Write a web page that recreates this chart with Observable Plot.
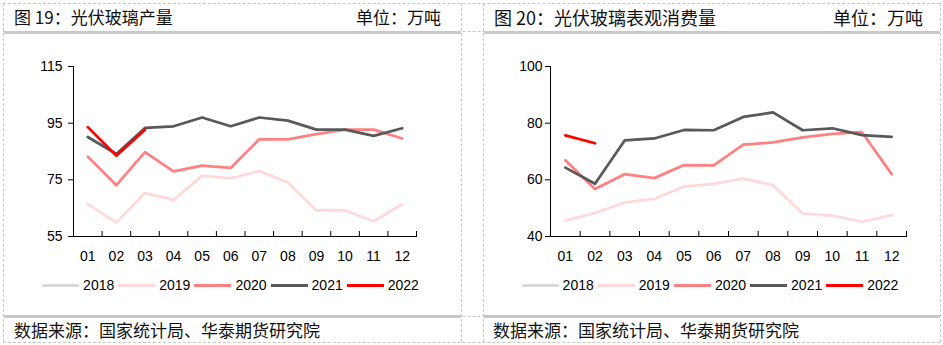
<!DOCTYPE html>
<html><head><meta charset="utf-8">
<script src="https://cdn.jsdelivr.net/npm/d3@7"></script>
<script src="https://cdn.jsdelivr.net/npm/@observablehq/plot@0.6"></script>
<style>
body{margin:0;background:#fff;}
#page{position:relative;width:943px;height:345px;overflow:hidden;font-family:"Noto Sans CJK SC",sans-serif;background:#fff;}
.dh{position:absolute;height:0;border-top:1px dashed #c4c4c4;}
.dv{position:absolute;width:0;border-left:1px dashed #c4c4c4;}
.bar{position:absolute;height:3px;background:#c8c8c8;}
.title{position:absolute;top:6px;font-size:17px;line-height:22px;color:#111;white-space:nowrap;}
.caption{position:absolute;top:319px;font-size:17px;line-height:22px;color:#111;white-space:nowrap;}
.chart{position:absolute;top:36px;}
.legend{position:absolute;top:276px;height:18px;display:flex;align-items:center;justify-content:center;font-family:"Liberation Sans",Arial,sans-serif;font-size:14px;color:#000;}
.legend .sw{display:inline-block;width:37px;height:3px;margin-right:4px;}
.legend .lb{margin-right:4px;}
</style>
</head><body>
<div id="page"></div>
<script>
// ---- data ----
const months = ["01","02","03","04","05","06","07","08","09","10","11","12"];
const years = ["2018","2019","2020","2021","2022"];
const colors = ["#d9d9d9","#ffd9d9","#ff8080","#595959","#ff0000"];

// 图19 光伏玻璃产量 (万吨)
const prod2018 = [];
const prod2019 = [66.4,59.9,70.3,67.9,76.4,75.5,78.1,74.1,64.2,64.2,60.4,66.4];
const prod2020 = [83.2,73.1,84.8,78.0,80.0,79.2,89.3,89.3,91.1,92.7,92.7,89.6];
const prod2021 = [90.1,84.1,93.3,93.9,97.0,93.9,97.0,95.9,92.7,92.7,90.5,93.2];
const prod2022 = [93.6,83.5,92.7];
const prodTicks = [55,75,95,115];

// 图20 光伏玻璃表观消费量 (万吨)
const cons2018 = [];
const cons2019 = [45.6,48.3,52.0,53.3,57.6,58.6,60.4,58.1,48.1,47.4,45.2,47.5];
const cons2020 = [66.9,56.8,62.0,60.6,65.2,65.1,72.4,73.2,75.0,76.2,76.8,62.0];
const cons2021 = [64.3,58.6,73.9,74.6,77.6,77.5,82.2,83.8,77.5,78.2,75.8,75.2];
const cons2022 = [75.7,72.9];
const consTicks = [40,60,80,100];

const page = document.getElementById("page");
function el(cls, css, html){const d=document.createElement("div");d.className=cls;Object.assign(d.style,css);if(html!=null)d.innerHTML=html;page.appendChild(d);return d;}

// frame (dashed table borders)
el("dh",{left:"3px",top:"3px",width:"937px"});
el("dh",{left:"3px",top:"342px",width:"937px"});
el("dh",{left:"3px",top:"31px",width:"937px"});
el("dh",{left:"3px",top:"316px",width:"937px"});
el("dv",{left:"3px",top:"3px",height:"339px"});
el("dv",{left:"461px",top:"3px",height:"339px"});
el("dv",{left:"483px",top:"3px",height:"339px"});
el("dv",{left:"940px",top:"3px",height:"339px"});
// gray bars
el("bar",{left:"4px",top:"31px",width:"457px"});
el("bar",{left:"484px",top:"31px",width:"456px"});
el("bar",{left:"4px",top:"315px",width:"457px"});
el("bar",{left:"484px",top:"315px",width:"456px"});

// titles & captions
el("title",{left:"14px"},"图 19：光伏玻璃产量");
el("title",{left:"356px"},"单位：万吨");
el("title",{left:"494px",fontSize:"18px"},"图 20：光伏玻璃表观消费量");
el("title",{left:"833px",fontSize:"18px"},"单位：万吨");
el("caption",{left:"14px"},"数据来源：国家统计局、华泰期货研究院");
el("caption",{left:"493px"},"数据来源：国家统计局、华泰期货研究院");

function makeRows(series){
  const rows=[];
  series.forEach((arr,k)=>arr.forEach((v,i)=>rows.push({year:years[k],m:i+1,v})));
  return rows;
}

function chart(series, ticks, opts){
  const rows = makeRows(series);
  const monthNums = months.map((_,i)=>i+1);
  const bounds = months.map((_,i)=>i+1.5);
  const yMin = ticks[0], yMax = ticks[ticks.length-1];
  return Plot.plot({
    width: opts.width, height: 234,
    marginLeft: opts.ml, marginRight: opts.mr, marginTop: 30, marginBottom: 34,
    style:{fontFamily:'"Liberation Sans",Arial,sans-serif',fontSize:"14px",color:"#000",background:"transparent",overflow:"visible"},
    x:{domain:[0.5,12.5], ticks: monthNums, tickFormat: d=>months[d-1], tickSize:0, tickPadding:15, line:true, label:null},
    y:{domain:[yMin,yMax], ticks: ticks, tickSize:5, tickPadding: opts.tp, line:true, label:null},
    color:{domain: years, range: colors},
    marks:[
      Plot.ruleX(bounds,{x:d=>d, y1:yMin, y2:yMin, insetBottom:5, stroke:"#000"}),
      Plot.line(rows,{x:"m", y:"v", z:"year", stroke:"year", strokeWidth:2.75, strokeLinejoin:"round"})
    ]
  });
}

const c1 = chart([prod2018,prod2019,prod2020,prod2021,prod2022], prodTicks, {width:461, ml:73, mr:45, tp:6});
const w1 = document.createElement("div"); w1.className="chart"; w1.style.left="0px"; w1.appendChild(c1); page.appendChild(w1);
const c2 = chart([cons2018,cons2019,cons2020,cons2021,cons2022], consTicks, {width:458, ml:67, mr:35, tp:3});
const w2 = document.createElement("div"); w2.className="chart"; w2.style.left="483px"; w2.appendChild(c2); page.appendChild(w2);

function legend(left, width){
  const lg = el("legend",{left:left+"px",width:width+"px"});
  years.forEach((y,k)=>{
    const s=document.createElement("span"); s.className="sw"; s.style.background=colors[k]; lg.appendChild(s);
    const t=document.createElement("span"); t.className="lb"; t.textContent=y; lg.appendChild(t);
  });
}
legend(4,457);
legend(484,456);
</script>
</body></html>
